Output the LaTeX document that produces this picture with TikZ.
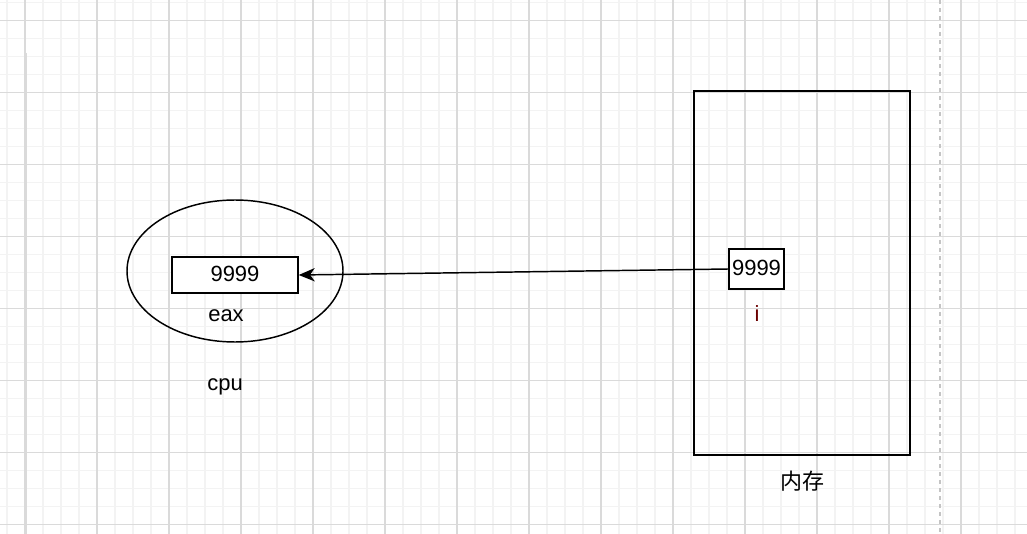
\documentclass[tikz,border=0pt]{standalone}
\usepackage{fontspec}
\setmainfont{Liberation Sans}
\newfontfamily\cjk{Noto Sans CJK SC}
\usetikzlibrary{arrows.meta,shapes.geometric}
\definecolor{minorgrid}{HTML}{F3F3F3}
\definecolor{majorgrid}{HTML}{DADADA}
\definecolor{dashgrey}{HTML}{C4C4C4}
\definecolor{ired}{HTML}{6B0000}
\tikzset{
  shapeline/.style={draw=black, line width=1.1pt},
  lbl/.style={inner sep=0pt, font=\fontsize{16.5}{19}\selectfont},
}
\begin{document}
\begin{tikzpicture}[x=0.75pt, y=-0.75pt]
\useasboundingbox (0,0) rectangle (1027,534);
\fill[white] (0,0) rectangle (1027,534);
% minor grid
\foreach \i in {0,...,57} {
  \draw[minorgrid, line width=0.9pt] ({7+18*\i},0) -- ({7+18*\i},534);
}
\foreach \j in {0,...,29} {
  \draw[minorgrid, line width=0.9pt] (0,{2.5+18*\j}) -- (1027,{2.5+18*\j});
}
% major grid
\foreach \i in {0,...,14} {
  \draw[majorgrid, line width=0.9pt] ({25+72*\i},0) -- ({25+72*\i},534);
}
\foreach \j in {0,...,7} {
  \draw[majorgrid, line width=0.9pt] (0,{20.5+72*\j}) -- (1027,{20.5+72*\j});
}
\draw[majorgrid, line width=1.5pt] (26,53) -- (26,534);
\draw[dashgrey, line width=0.9pt, dash pattern=on 3pt off 3pt] (940,0) -- (940,534);

% cpu
\node[shapeline, ellipse, minimum width=162pt, minimum height=106.5pt, inner sep=0pt] (cpu) at (235,271) {};
\node[shapeline, rectangle, minimum width=94.5pt, minimum height=27pt, inner sep=0pt, fill=white] (eaxbox) at (235,275) {};
\node[lbl] (eaxval) at (235,274) {9999};
\node[lbl] (eax) at (226,316) {eax};
\node[lbl] (cpulbl) at (225,387) {cpu};

% memory
\node[shapeline, rectangle, minimum width=162pt, minimum height=273pt, inner sep=0pt] (mem) at (802,273) {};
\node[shapeline, rectangle, minimum width=41.25pt, minimum height=30pt, inner sep=0pt, fill=white] (ibox) at (756.5,269) {};
\node[lbl] (ival) at (756.5,268) {9999};
\node[lbl, text=ired] (ilbl) at (757,314) {i};
\node[inner sep=0pt, font=\cjk\fontsize{16.5}{19}\selectfont] (memlbl) at (802,481) {内存};

\draw[black, line width=1.1pt, -{Stealth[length=12pt, width=10pt, inset=3.5pt]}] (ibox.west) -- (eaxbox.east);
\end{tikzpicture}
\end{document}
